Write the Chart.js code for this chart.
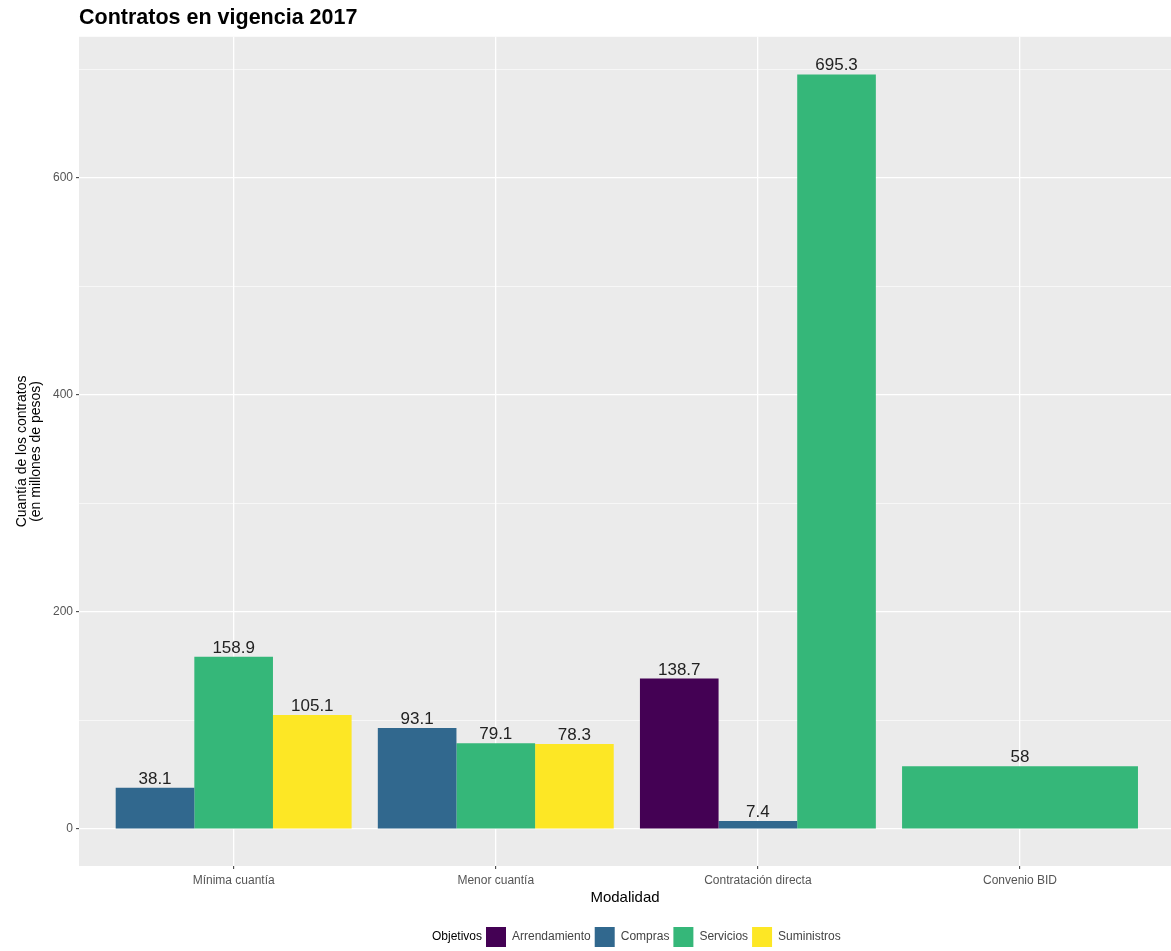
<!DOCTYPE html>
<html>
<head>
<meta charset="utf-8">
<script src="https://cdn.jsdelivr.net/npm/chart.js@4"></script>
<style>
  body { margin: 0; background: #fff; }
</style>
</head>
<body>
<canvas id="myChart" width="1171" height="951"></canvas>
<script>
const categories = ['Mínima cuantía', 'Menor cuantía', 'Contratación directa', 'Convenio BID'];
const objetivos = ['Arrendamiento', 'Compras', 'Servicios', 'Suministros'];
const colores = ['#440154', '#31688E', '#35B779', '#FDE725'];

const arrendamiento = [null, null, 138.7, null];
const compras = [38.1, 93.1, 7.4, null];
const servicios = [158.9, 79.1, 695.3, 58];
const suministros = [105.1, 78.3, null, null];

const yTicks = [0, 200, 400, 600];
const yMinor = [100, 300, 500, 700];

const series = [arrendamiento, compras, servicios, suministros];

// dodge like ggplot: each category splits its width among the series it has
const slots = [[], [], []];
const solo = [];
categories.forEach((cat, i) => {
    const present = series.map((s, k) => ({ k, v: s[i] })).filter(p => p.v !== null);
    if (present.length === 1) {
        solo.push({ x: i + 1, y: present[0].v, color: colores[present[0].k] });
    } else {
        present.forEach((p, j) => slots[j].push({ x: i + 1, y: p.v, color: colores[p.k] }));
    }
});

const datasets = slots.map((pts) => ({
    data: pts.map(p => ({ x: p.x, y: p.y })),
    backgroundColor: pts.map(p => p.color),
    categoryPercentage: 0.9,
    barPercentage: 1
}));
datasets.push({
    data: solo.map(p => ({ x: p.x, y: p.y })),
    backgroundColor: solo.map(p => p.color),
    grouped: false,
    categoryPercentage: 0.9,
    barPercentage: 1
});

const font = "'Liberation Sans', Arial, sans-serif";
Chart.defaults.font.family = font;

const panel = {
    id: 'panel',
    beforeDraw(chart) {
        const { ctx, chartArea: a } = chart;
        ctx.save();
        ctx.fillStyle = '#EBEBEB';
        ctx.fillRect(a.left, a.top, a.right - a.left, a.bottom - a.top);
        ctx.restore();
    },
    afterLayout(chart) {
        // title starts at the panel edge, legend sits like ggplot's
        const t = chart.titleBlock;
        const dx = chart.chartArea.left - t.left;
        t.left += dx;
        t.right += dx;

        const lg = chart.legend;
        chart.ctx.save();
        chart.ctx.font = '12px ' + font;
        const w = chart.ctx.measureText('Objetivos').width;
        chart.ctx.restore();
        const start = 486 - (20 + 6 + w + 4);
        const lx = start - 4 - lg.left;
        lg.left += lx;
        lg.right += lx;
        const ly = 927 - 4 - lg.top;
        lg.top += ly;
        lg.bottom += ly;
    }
};

const barLabels = {
    id: 'barLabels',
    afterDatasetsDraw(chart) {
        const { ctx } = chart;
        ctx.save();
        ctx.font = '17px ' + font;
        ctx.fillStyle = '#222';
        ctx.textAlign = 'center';
        ctx.textBaseline = 'alphabetic';
        chart.data.datasets.forEach((ds, i) => {
            chart.getDatasetMeta(i).data.forEach((bar, j) => {
                ctx.fillText(String(ds.data[j].y), bar.x, bar.y - 4);
            });
        });
        ctx.restore();
    }
};

const config = {
    type: 'bar',
    data: { datasets },
    options: {
        responsive: false,
        animation: false,
        devicePixelRatio: 1,
        layout: { padding: 0 },
        plugins: {
            tooltip: { enabled: false },
            title: {
                display: true,
                text: 'Contratos en vigencia 2017',
                align: 'start',
                color: '#000',
                font: { size: 21.5, weight: 'bold' },
                padding: { top: 5, bottom: 6 }
            },
            legend: {
                position: 'bottom',
                align: 'start',
                labels: {
                    boxWidth: 20,
                    boxHeight: 20,
                    padding: 4,
                    font: { size: 12 },
                    color: '#333',
                    generateLabels: () => [
                        { text: 'Objetivos', fillStyle: 'rgba(0,0,0,0)', strokeStyle: 'rgba(0,0,0,0)', lineWidth: 0, fontColor: '#000', hidden: false }
                    ].concat(objetivos.map((o, k) => ({
                        text: o, fillStyle: colores[k], strokeStyle: colores[k], lineWidth: 0, fontColor: '#444', hidden: false
                    })))
                }
            }
        },
        scales: {
            x: {
                type: 'linear',
                min: 0.41,
                max: 4.576,
                offset: false,
                bounds: 'data',
                afterBuildTicks: (s) => { s.ticks = categories.map((c, i) => ({ value: i + 1 })); },
                afterFit: (s) => { s.height = 51; },
                ticks: {
                    callback: (v) => categories[v - 1],
                    autoSkip: false,
                    maxRotation: 0,
                    font: { size: 12 },
                    color: '#555',
                    padding: 4
                },
                grid: {
                    color: '#fff',
                    lineWidth: 1.3,
                    offset: false,
                    tickLength: 3,
                    tickColor: '#333',
                    tickWidth: 1
                },
                border: { display: false },
                title: {
                    display: true,
                    text: 'Modalidad',
                    color: '#000',
                    font: { size: 15 },
                    padding: { top: 2, bottom: 10 }
                }
            },
            y: {
                min: -34,
                max: 730,
                bounds: 'data',
                afterBuildTicks: (s) => {
                    s.ticks = yTicks.concat(yMinor).sort((a, b) => a - b).map(v => ({ value: v }));
                },
                afterFit: (s) => { s.width = 79; },
                ticks: {
                    callback: (v) => yTicks.includes(v) ? v : '',
                    font: { size: 12 },
                    color: '#555',
                    padding: 3
                },
                grid: {
                    color: '#fff',
                    lineWidth: (c) => yTicks.includes(c.tick.value) ? 1.3 : 0.6,
                    tickLength: 3,
                    tickColor: (c) => yTicks.includes(c.tick.value) ? '#333' : 'rgba(0,0,0,0)',
                    tickWidth: 1
                },
                border: { display: false },
                title: {
                    display: true,
                    text: ['Cuantía de los contratos', '(en millones de pesos)'],
                    color: '#000',
                    font: { size: 14, lineHeight: 1 },
                    padding: { top: 15 }
                }
            }
        }
    },
    plugins: [panel, barLabels]
};

const myChart = new Chart(document.getElementById('myChart'), config);
</script>
</body>
</html>
